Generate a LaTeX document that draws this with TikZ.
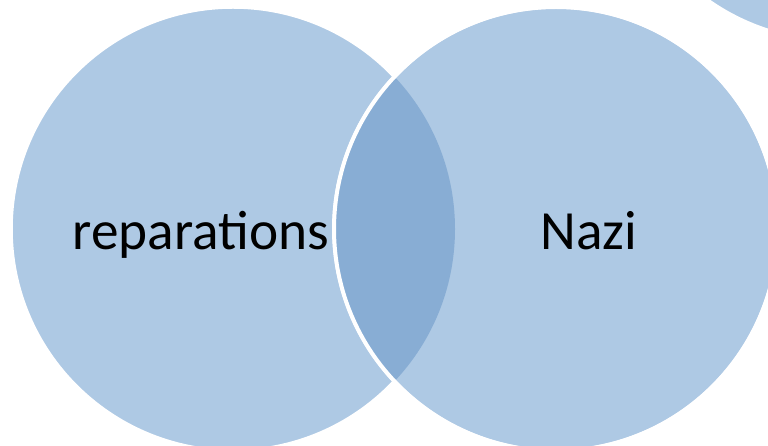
\documentclass[tikz,border=0pt]{standalone}
\usepackage{fontspec}
\setmainfont{Carlito}
\usetikzlibrary{positioning}

\definecolor{setblue}{HTML}{AEC9E4}
\definecolor{lensblue}{HTML}{88ADD4}

\begin{document}
\begin{tikzpicture}[x=1bp, y=-1bp,
  set/.style = {circle, draw=white, line width=3.5bp, fill=setblue, minimum size=444bp, inner sep=0pt},
  settext/.style = {anchor=base, font=\fontsize{55.5}{60}\selectfont}]
\useasboundingbox (0,0) rectangle (768,446);
\clip (0,0) rectangle (768,446);

\node[set] (corner) at (836,-181) {};
\node[set] (left) at (233,229) {};
\node[set] (right) at (556,229) {};

% overlap of the two sets
\begin{scope}
\clip (left.center) circle[radius=222];
\fill[lensblue] (right.center) circle[radius=222];
\end{scope}
\draw[white, line width=4bp] (right.center) circle[radius=222];

\node[settext] (reparations) at (201,250) {reparations};
\node[settext] (nazi) at (589,250) {Nazi};
\end{tikzpicture}
\end{document}
